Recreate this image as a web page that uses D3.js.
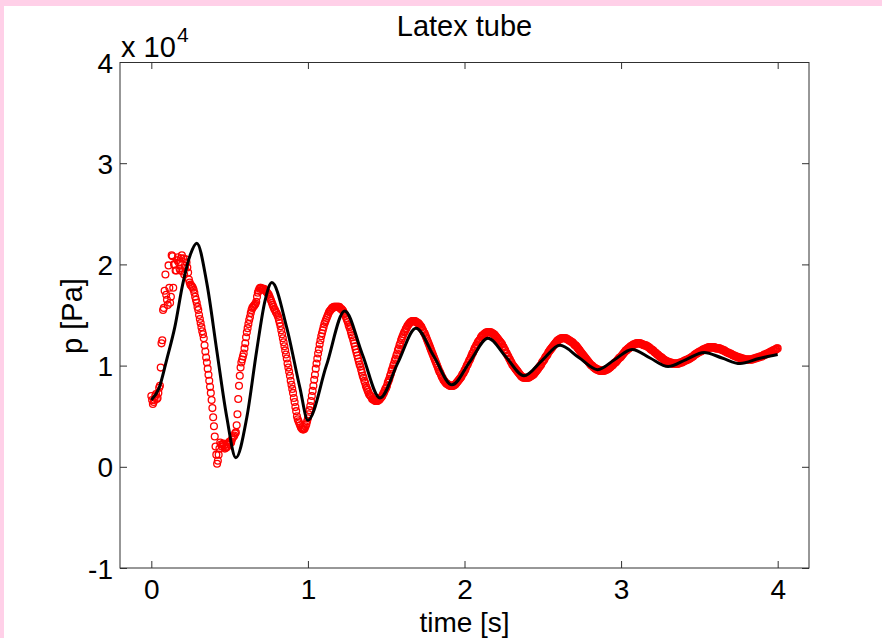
<!DOCTYPE html>
<html>
<head>
<meta charset="utf-8">
<script src="https://cdn.jsdelivr.net/npm/d3@7"></script>
<style>
    body { margin: 0; background: #ffffff; }
    svg { display: block; }
    text { font-family: "Liberation Sans", Arial, Helvetica, sans-serif; fill: #000000; }
</style>
</head>
<body>
<div id="chart"></div>
<script>
//DATA (pressure in units of 10^4 Pa)

//measured pressure, one sample every measStep seconds starting at t = 0
const measStep = 0.005;
const measP = [
    0.70, 0.66, 0.62, 0.64, 0.66, 0.70, 0.72, 0.67, 0.68, 0.73,  //0.00
    0.78, 0.80, 0.98, 1.22, 1.25, 1.55, 1.57, 1.74, 1.90, 1.70,
    1.65, 1.60, 1.99, 1.77, 1.62, 1.68, 2.09, 2.08, 1.77, 2.00,  //0.10
    2.00, 1.94, 1.94, 2.04, 2.07, 2.02, 1.96, 1.94, 2.06, 2.09,
    1.93, 2.06, 1.90, 1.97, 2.05, 2.02, 1.97, 1.92, 1.85, 1.82,  //0.20
    1.80, 1.79, 1.78, 1.77, 1.75, 1.72, 1.68, 1.65, 1.62, 1.58,
    1.55, 1.50, 1.46, 1.42, 1.38, 1.34, 1.31, 1.27, 1.20, 1.14,  //0.30
    1.08, 1.03, 0.97, 0.91, 0.85, 0.79, 0.73, 0.66, 0.58, 0.49,
    0.40, 0.30, 0.20, 0.12, 0.03, 0.06, 0.12, 0.18, 0.24, 0.22,  //0.40
    0.20, 0.22, 0.23, 0.21, 0.18, 0.19, 0.19, 0.20, 0.22, 0.24,
    0.25, 0.24, 0.24, 0.27, 0.29, 0.30, 0.31, 0.33, 0.34, 0.41,  //0.50
    0.52, 0.67, 0.80, 0.90, 0.98, 1.03, 1.06, 1.09, 1.12, 1.17,
    1.22, 1.28, 1.33, 1.37, 1.41, 1.45, 1.48, 1.52, 1.55, 1.57,  //0.60
    1.58, 1.59, 1.60, 1.61, 1.63, 1.68, 1.72, 1.74, 1.76, 1.77,
    1.77, 1.76, 1.75, 1.76, 1.76, 1.75, 1.74, 1.73, 1.72, 1.71,  //0.70
    1.70, 1.68, 1.66, 1.64, 1.62, 1.60, 1.58, 1.56, 1.55, 1.53,
    1.52, 1.50, 1.48, 1.45, 1.42, 1.39, 1.35, 1.31, 1.27, 1.23,  //0.80
    1.19, 1.15, 1.11, 1.07, 1.02, 0.98, 0.94, 0.90, 0.85, 0.81,
    0.77, 0.73, 0.68, 0.64, 0.59, 0.55, 0.50, 0.47, 0.45, 0.43,  //0.90
    0.41, 0.39, 0.38, 0.37, 0.37, 0.37, 0.38, 0.40, 0.42, 0.45,
    0.48, 0.52, 0.56, 0.60, 0.65, 0.70, 0.75, 0.80, 0.86, 0.91,  //1.00
    0.97, 1.02, 1.07, 1.12, 1.16, 1.21, 1.25, 1.29, 1.32, 1.35,
    1.38, 1.41, 1.43, 1.45, 1.47, 1.49, 1.51, 1.53, 1.54, 1.55,  //1.10
    1.56, 1.57, 1.57, 1.58, 1.58, 1.58, 1.58, 1.58, 1.58, 1.58,
    1.58, 1.57, 1.56, 1.56, 1.55, 1.54, 1.52, 1.51, 1.49, 1.47,  //1.20
    1.45, 1.43, 1.40, 1.38, 1.36, 1.33, 1.30, 1.28, 1.25, 1.22,
    1.19, 1.16, 1.13, 1.10, 1.07, 1.04, 1.01, 0.99, 0.96, 0.93,  //1.30
    0.90, 0.88, 0.85, 0.83, 0.80, 0.78, 0.76, 0.74, 0.72, 0.71,
    0.70, 0.69, 0.67, 0.67, 0.66, 0.66, 0.65, 0.65, 0.65, 0.65,  //1.40
    0.66, 0.66, 0.67, 0.68, 0.69, 0.70, 0.72, 0.73, 0.75, 0.77,
    0.78, 0.80, 0.83, 0.85, 0.87, 0.90, 0.92, 0.95, 0.97, 1.00,  //1.50
    1.02, 1.05, 1.07, 1.10, 1.12, 1.15, 1.17, 1.20, 1.22, 1.25,
    1.27, 1.29, 1.31, 1.33, 1.34, 1.36, 1.37, 1.39, 1.40, 1.41,  //1.60
    1.42, 1.43, 1.43, 1.44, 1.44, 1.44, 1.44, 1.44, 1.43, 1.43,
    1.42, 1.42, 1.41, 1.40, 1.39, 1.38, 1.36, 1.35, 1.33, 1.32,  //1.70
    1.30, 1.28, 1.26, 1.24, 1.22, 1.20, 1.18, 1.16, 1.14, 1.12,
    1.10, 1.08, 1.06, 1.04, 1.02, 1.00, 0.98, 0.96, 0.94, 0.93,  //1.80
    0.91, 0.89, 0.88, 0.86, 0.85, 0.84, 0.83, 0.82, 0.82, 0.81,
    0.81, 0.80, 0.80, 0.80, 0.80, 0.80, 0.80, 0.81, 0.81, 0.82,  //1.90
    0.83, 0.84, 0.85, 0.86, 0.87, 0.88, 0.89, 0.91, 0.92, 0.93,
    0.95, 0.96, 0.98, 1.00, 1.01, 1.03, 1.05, 1.06, 1.08, 1.10,  //2.00
    1.12, 1.13, 1.15, 1.17, 1.18, 1.20, 1.21, 1.23, 1.24, 1.25,
    1.26, 1.28, 1.29, 1.30, 1.30, 1.31, 1.32, 1.32, 1.33, 1.33,  //2.10
    1.33, 1.33, 1.33, 1.33, 1.33, 1.32, 1.32, 1.31, 1.31, 1.30,
    1.29, 1.28, 1.27, 1.26, 1.25, 1.24, 1.23, 1.22, 1.21, 1.19,  //2.20
    1.18, 1.16, 1.15, 1.13, 1.12, 1.10, 1.09, 1.07, 1.06, 1.04,
    1.03, 1.01, 1.00, 0.99, 0.98, 0.97, 0.96, 0.95, 0.94, 0.93,  //2.30
    0.92, 0.91, 0.90, 0.89, 0.89, 0.88, 0.88, 0.88, 0.88, 0.88,
    0.88, 0.88, 0.88, 0.89, 0.89, 0.90, 0.90, 0.91, 0.91, 0.92,  //2.40
    0.93, 0.94, 0.95, 0.96, 0.97, 0.98, 0.99, 1.00, 1.01, 1.03,
    1.04, 1.05, 1.06, 1.08, 1.09, 1.10, 1.11, 1.13, 1.14, 1.15,  //2.50
    1.16, 1.17, 1.18, 1.19, 1.20, 1.21, 1.22, 1.23, 1.24, 1.25,
    1.25, 1.26, 1.26, 1.27, 1.27, 1.27, 1.27, 1.27, 1.27, 1.27,  //2.60
    1.27, 1.26, 1.26, 1.25, 1.25, 1.24, 1.24, 1.23, 1.23, 1.22,
    1.21, 1.20, 1.20, 1.19, 1.18, 1.17, 1.16, 1.15, 1.14, 1.13,  //2.70
    1.12, 1.11, 1.10, 1.09, 1.08, 1.07, 1.06, 1.05, 1.04, 1.03,
    1.02, 1.01, 1.00, 1.00, 0.99, 0.98, 0.98, 0.97, 0.97, 0.96,  //2.80
    0.96, 0.96, 0.95, 0.95, 0.95, 0.95, 0.95, 0.95, 0.95, 0.95,
    0.96, 0.96, 0.96, 0.97, 0.97, 0.98, 0.98, 0.99, 1.00, 1.00,  //2.90
    1.01, 1.02, 1.03, 1.03, 1.04, 1.05, 1.06, 1.07, 1.08, 1.08,
    1.09, 1.10, 1.11, 1.12, 1.13, 1.14, 1.15, 1.15, 1.16, 1.17,  //3.00
    1.17, 1.18, 1.19, 1.19, 1.20, 1.20, 1.21, 1.21, 1.21, 1.22,
    1.22, 1.22, 1.22, 1.22, 1.22, 1.22, 1.21, 1.21, 1.21, 1.20,  //3.10
    1.20, 1.20, 1.20, 1.19, 1.19, 1.18, 1.18, 1.17, 1.16, 1.16,
    1.15, 1.15, 1.14, 1.13, 1.13, 1.12, 1.11, 1.11, 1.10, 1.09,  //3.20
    1.09, 1.08, 1.08, 1.07, 1.06, 1.06, 1.05, 1.05, 1.04, 1.04,
    1.04, 1.03, 1.03, 1.03, 1.03, 1.02, 1.02, 1.02, 1.02, 1.02,  //3.30
    1.02, 1.02, 1.02, 1.02, 1.02, 1.03, 1.03, 1.03, 1.03, 1.04,
    1.04, 1.05, 1.05, 1.05, 1.06, 1.06, 1.06, 1.07, 1.07, 1.08,  //3.40
    1.08, 1.09, 1.09, 1.10, 1.11, 1.11, 1.12, 1.12, 1.13, 1.13,
    1.14, 1.14, 1.14, 1.15, 1.15, 1.16, 1.16, 1.16, 1.17, 1.17,  //3.50
    1.17, 1.18, 1.18, 1.18, 1.18, 1.18, 1.18, 1.18, 1.18, 1.18,
    1.18, 1.17, 1.17, 1.17, 1.17, 1.17, 1.17, 1.16, 1.16, 1.16,  //3.60
    1.15, 1.15, 1.15, 1.14, 1.14, 1.13, 1.13, 1.13, 1.12, 1.12,
    1.12, 1.11, 1.11, 1.10, 1.10, 1.10, 1.09, 1.09, 1.09, 1.08,  //3.70
    1.08, 1.08, 1.08, 1.07, 1.07, 1.07, 1.07, 1.06, 1.06, 1.06,
    1.06, 1.06, 1.06, 1.06, 1.06, 1.06, 1.06, 1.06, 1.06, 1.07,  //3.80
    1.07, 1.07, 1.07, 1.08, 1.08, 1.08, 1.08, 1.09, 1.09, 1.09,
    1.09, 1.10, 1.10, 1.11, 1.11, 1.11, 1.12, 1.12, 1.12, 1.13,  //3.90
    1.13, 1.14, 1.14, 1.14, 1.15, 1.15, 1.15, 1.16, 1.16, 1.17,
    1.17                                                          //4.00
];

//simulated pressure (model curve)
const modelTime = [
    0.00, 0.05, 0.10, 0.15, 0.20, 0.25, 0.29, 0.355, 0.418, 0.482,
    0.54, 0.61, 0.673, 0.726, 0.77, 0.864, 0.949, 1.00, 1.118, 1.235,
    1.348, 1.46, 1.575, 1.69, 1.805, 1.92, 2.035, 2.15, 2.265, 2.38,
    2.495, 2.61, 2.73, 2.85, 2.96, 3.07, 3.185, 3.30, 3.415, 3.53,
    3.645, 3.76, 3.88, 4.00
];
const modelP = [
    0.66, 0.78, 1.07, 1.38, 1.80, 2.10, 2.21, 1.81, 1.15, 0.49,
    0.09, 0.49, 1.15, 1.64, 1.82, 1.38, 0.78, 0.46, 1.00, 1.54,
    1.11, 0.68, 1.03, 1.37, 1.09, 0.81, 1.04, 1.27, 1.085, 0.90,
    1.05, 1.20, 1.08, 0.96, 1.06, 1.16, 1.075, 0.99, 1.06, 1.13,
    1.075, 1.02, 1.07, 1.11
];

//axes
const xTicks = [0, 1, 2, 3, 4];
const yTicks = [-1, 0, 1, 2, 3, 4];
const xDomain = [-0.2, 4.2];
const yDomain = [-1, 4];

const titleText = "Latex tube";
const xLabelText = "time [s]";
const yLabelText = "p [Pa]";
const yExponent = "4";

var LATEX = LATEX || { };

//SETTINGS
LATEX.SETTINGS = {
    width: 882,
    height: 638,
    margin: { top: 62, right: 73, bottom: 70, left: 120 },
    axisColor: "#303030",
    tickLength: 7,
    pinkColor: "#ffd0e8",
    markerRadius: 3.4,
    markerStroke: 1.3,
    markerColor: "#ff0000",
    lineColor: "#000000",
    lineWidth: 3
};

//GRAPH GENERATION
LATEX.GRAPHS = {

    makePlot: function(elem){
        const s = LATEX.SETTINGS;
        const m = s.margin;
        const left = m.left, right = s.width - m.right;
        const top = m.top, bottom = s.height - m.bottom;

        const svg = d3.select(elem)
            .append("svg")
            .attr("width", s.width)
            .attr("height", s.height);

        //pink frame strips on the top and left edge
        svg.append("rect").attr("x", 0).attr("y", 0).attr("width", s.width).attr("height", 6).attr("fill", s.pinkColor);
        svg.append("rect").attr("x", 0).attr("y", 0).attr("width", 4).attr("height", s.height).attr("fill", s.pinkColor);

        const x = d3.scaleLinear().domain(xDomain).range([left, right]);
        const y = d3.scaleLinear().domain(yDomain).range([bottom, top]);

        //measured points as open circles
        const points = measP.map((p, i) => ({ t: i * measStep, p: p }));
        svg.append("g")
            .selectAll("circle")
            .data(points)
            .join("circle")
            .attr("cx", d => x(d.t))
            .attr("cy", d => y(d.p))
            .attr("r", s.markerRadius)
            .attr("fill", "none")
            .attr("stroke", s.markerColor)
            .attr("stroke-width", s.markerStroke);

        //model line drawn on top
        const line = d3.line()
            .x((d, i) => x(modelTime[i]))
            .y(d => y(d))
            .curve(d3.curveMonotoneX);
        svg.append("path")
            .attr("d", line(modelP))
            .attr("fill", "none")
            .attr("stroke", s.lineColor)
            .attr("stroke-width", s.lineWidth)
            .attr("stroke-linejoin", "round");

        //axes, ticks point inward
        const fmt = d => String(d);
        const gx = svg.append("g")
            .attr("transform", `translate(0,${bottom})`)
            .call(d3.axisBottom(x).tickValues(xTicks).tickSizeInner(-s.tickLength).tickSizeOuter(0).tickFormat(fmt));
        const gxTop = svg.append("g")
            .attr("transform", `translate(0,${top})`)
            .call(d3.axisTop(x).tickValues(xTicks).tickSizeInner(-s.tickLength).tickSizeOuter(0).tickFormat(""));
        const gy = svg.append("g")
            .attr("transform", `translate(${left},0)`)
            .call(d3.axisLeft(y).tickValues(yTicks).tickSizeInner(-s.tickLength).tickSizeOuter(0).tickFormat(fmt));
        const gyRight = svg.append("g")
            .attr("transform", `translate(${right},0)`)
            .call(d3.axisRight(y).tickValues(yTicks).tickSizeInner(-s.tickLength).tickSizeOuter(0).tickFormat(""));

        [gx, gxTop, gy, gyRight].forEach(g => {
            g.select(".domain").remove();
            g.selectAll(".tick line").attr("stroke", s.axisColor);
            g.attr("font-family", null).attr("font-size", null);
        });

        gx.selectAll(".tick text")
            .attr("y", 31)
            .attr("dy", null)
            .attr("font-size", 28);
        gy.selectAll(".tick text")
            .attr("x", -7)
            .attr("dy", "0.36em")
            .attr("font-size", 28);

        //box around the plot
        svg.append("rect")
            .attr("x", left)
            .attr("y", top + 0.5)
            .attr("width", right - left)
            .attr("height", bottom - top - 0.5)
            .attr("fill", "none")
            .attr("stroke", s.axisColor)
            .attr("stroke-width", 1);

        //texts
        svg.append("text")
            .attr("x", (left + right) / 2)
            .attr("y", 36)
            .attr("text-anchor", "middle")
            .attr("font-size", 29)
            .text(titleText);

        svg.append("text")
            .attr("x", (left + right) / 2)
            .attr("y", 632)
            .attr("text-anchor", "middle")
            .attr("font-size", 28)
            .text(xLabelText);

        svg.append("text")
            .attr("transform", `translate(82,${(top + bottom) / 2 + 1}) rotate(-90)`)
            .attr("text-anchor", "middle")
            .attr("font-size", 29)
            .text(yLabelText);

        //exponent label above the y axis
        svg.append("text")
            .attr("x", left + 1)
            .attr("y", 57)
            .attr("font-size", 29)
            .text("x 10");
        svg.append("text")
            .attr("x", left + 57)
            .attr("y", 42)
            .attr("font-size", 21)
            .text(yExponent);
    }
};

LATEX.GRAPHS.makePlot(document.getElementById("chart"));
</script>
</body>
</html>
